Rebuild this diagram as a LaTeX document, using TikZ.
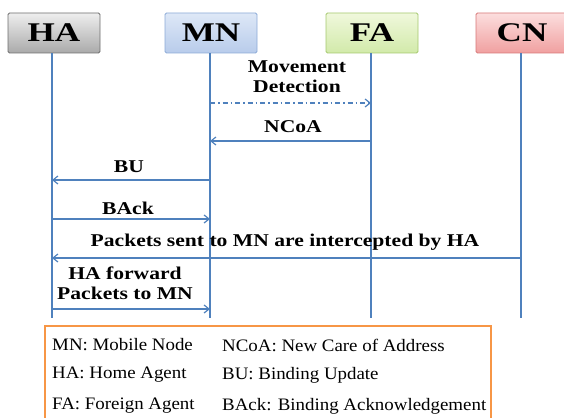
\documentclass[tikz,border=0pt]{standalone}
\usepackage{fontspec}
\setmainfont{Liberation Serif}
\newfontfamily\lblfont[FakeStretch=1.2]{Liberation Serif}
\newfontfamily\hdrfont[FakeStretch=1.3]{Liberation Serif}
\newfontfamily\legfont[FakeStretch=1.08]{Liberation Serif}
\usetikzlibrary{arrows.meta}
\definecolor{lineblue}{RGB}{79,129,189}
\definecolor{legendorange}{RGB}{247,150,70}
\definecolor{haTop}{RGB}{238,238,238}
\definecolor{haBot}{RGB}{170,170,170}
\definecolor{haDraw}{RGB}{110,110,110}
\definecolor{mnTop}{RGB}{222,232,247}
\definecolor{mnBot}{RGB}{184,204,235}
\definecolor{mnDraw}{RGB}{140,170,215}
\definecolor{faTop}{RGB}{240,248,220}
\definecolor{faBot}{RGB}{210,234,170}
\definecolor{faDraw}{RGB}{165,200,110}
\definecolor{cnTop}{RGB}{252,222,222}
\definecolor{cnBot}{RGB}{240,160,160}
\definecolor{cnDraw}{RGB}{215,120,120}
\begin{document}
\begin{tikzpicture}[x=1pt,y=-1pt,
  hdr/.style={line width=0.8pt, rounded corners=1.5pt, minimum width=92pt, minimum height=40pt, inner sep=0pt, font=\hdrfont\fontsize{27}{30}\selectfont\bfseries},
  life/.style={draw=lineblue, line width=1.4pt},
  msg/.style={draw=lineblue, line width=1.4pt, -{Straight Barb[length=5pt,width=8pt,line width=1.2pt]}},
  lbl/.style={font=\lblfont\fontsize{18}{20}\selectfont\bfseries, inner sep=0pt, align=center},
  leg/.style={font=\legfont\fontsize{17.5}{19}\selectfont, anchor=west, inner sep=0pt}]
\useasboundingbox (0,0) rectangle (564,417);
\begin{scope}
\clip (0,0) rectangle (564,417);
% headers
\node[hdr, draw=haDraw, top color=haTop, bottom color=haBot] (ha) at (54,33) {HA};
\node[hdr, draw=mnDraw, top color=mnTop, bottom color=mnBot] (mn) at (211,33) {MN};
\node[hdr, draw=faDraw, top color=faTop, bottom color=faBot] (fa) at (372,33) {FA};
\node[hdr, draw=cnDraw, top color=cnTop, bottom color=cnBot] (cn) at (522,33) {CN};
% lifeline ends
\coordinate (haE) at (52,318);
\coordinate (mnE) at (210,318);
\coordinate (faE) at (371,318);
\coordinate (cnE) at (521,318);
\draw[life] (ha.south -| haE) -- (haE);
\draw[life] (mn.south -| mnE) -- (mnE);
\draw[life] (fa.south -| faE) -- (faE);
\draw[life] (cn.south -| cnE) -- (cnE);
% messages
\coordinate (m1a) at (210,103); \coordinate (m1b) at (371,103);
\draw[msg, dash pattern=on 5pt off 3pt on 1.5pt off 3pt] (m1a) -- (m1b);
\node[lbl] (l1) at (297,77) {Movement\\Detection};
\coordinate (m2a) at (371,141); \coordinate (m2b) at (210,141);
\draw[msg] (m2a) -- (m2b);
\node[lbl] (l2) at (293,127) {NCoA};
\coordinate (m3a) at (210,180); \coordinate (m3b) at (52,180);
\draw[msg] (m3a) -- (m3b);
\node[lbl] (l3) at (129,167) {BU};
\coordinate (m4a) at (52,219); \coordinate (m4b) at (210,219);
\draw[msg] (m4a) -- (m4b);
\node[lbl] (l4) at (128,208) {BAck};
\coordinate (m5a) at (521,258); \coordinate (m5b) at (52,258);
\draw[msg] (m5a) -- (m5b);
\node[lbl] (l5) at (285,242) {Packets sent to MN are intercepted by HA};
\coordinate (m6a) at (52,309); \coordinate (m6b) at (210,309);
\draw[msg] (m6a) -- (m6b);
\node[lbl] (l6) at (125,283) {HA forward\\Packets to MN};
% legend
\draw[draw=legendorange, line width=1.3pt] (45,326) rectangle (491,430);
\node[leg] (k1) at (52,345) {MN: Mobile Node};
\node[leg] (k2) at (222,345) {NCoA: New Care of Address};
\node[leg] (k3) at (52,375) {HA: Home Agent};
\node[leg] (k4) at (222,375) {BU: Binding Update};
\node[leg] (k5) at (52,406) {FA: Foreign Agent};
\node[leg] (k6) at (222,406) {BAck: Binding Acknowledgement};
\end{scope}
\end{tikzpicture}
\end{document}
